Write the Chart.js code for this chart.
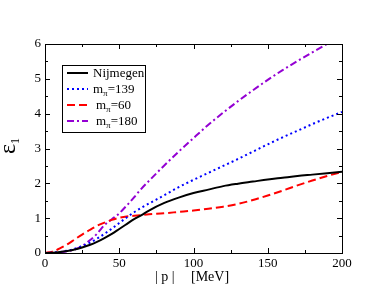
<!DOCTYPE html>
<html><head><meta charset="utf-8">
<script src="https://cdn.jsdelivr.net/npm/chart.js@4/dist/chart.umd.min.js"></script>
<style>html,body{margin:0;padding:0;background:#fff;}canvas{display:block;}</style>
</head><body>
<canvas id="c" width="385" height="298"></canvas>
<script>
const momentum = [0,5,10,15,20,25,30,35,40,45,50,55,60,65,70,80,90,100,110,120,130,140,150,160,170,180,190,200];
const nijmegen = [0,0.01,0.03,0.06,0.10,0.16,0.23,0.32,0.43,0.55,0.69,0.83,0.97,1.09,1.22,1.43,1.59,1.72,1.82,1.92,1.99,2.05,2.11,2.16,2.21,2.25,2.29,2.33];
const mpi139 = [0,0.01,0.03,0.07,0.12,0.20,0.29,0.41,0.55,0.70,0.86,1.02,1.17,1.30,1.42,1.65,1.89,2.10,2.30,2.50,2.70,2.91,3.12,3.32,3.51,3.70,3.88,4.05];
const mpi60 = [0,0.04,0.13,0.25,0.39,0.53,0.66,0.78,0.87,0.95,1.01,1.05,1.07,1.09,1.11,1.14,1.18,1.22,1.27,1.33,1.41,1.52,1.65,1.79,1.94,2.08,2.21,2.33];
const mpi180 = [0,0.01,0.02,0.05,0.10,0.20,0.36,0.55,0.80,0.97,1.14,1.36,1.60,1.85,2.07,2.50,2.91,3.30,3.68,4.03,4.36,4.67,4.97,5.25,5.51,5.76,6.00,6.22];
const xTicks = [0,50,100,150,200];
const yTicks = [0,1,2,3,4,5,6];
const legendNames = [["Nijmegen",""],["m","=139"],["m","=60"],["m","=180"]];

const SERIF = "'Liberation Serif', 'Times New Roman', serif";
function pts(ys){ return momentum.map((x,i)=>({x:x,y:ys[i]})); }

const series = [
  {label:"Nijmegen", data:pts(nijmegen), borderColor:"#000000", borderWidth:2, borderDash:[]},
  {label:"m_pi=139", data:pts(mpi139), borderColor:"#0000ff", borderWidth:2, borderDash:[2,3]},
  {label:"m_pi=60", data:pts(mpi60), borderColor:"#ff0000", borderWidth:2, borderDash:[8,4]},
  {label:"m_pi=180", data:pts(mpi180), borderColor:"#9400d3", borderWidth:2, borderDash:[7,3,2,3]}
];

const deco = {
  id:'deco',
  afterDraw(chart){
    const ctx = chart.ctx, a = chart.chartArea, xs = chart.scales.x, ys = chart.scales.y;
    ctx.save();
    ctx.strokeStyle = '#000'; ctx.lineWidth = 1;
    ctx.strokeRect(Math.round(a.left)+0.5, Math.round(a.top)+0.5, Math.round(a.right-a.left), Math.round(a.bottom-a.top));
    ctx.beginPath();
    for (let v=0; v<=200; v+=25){
      const px = Math.round(xs.getPixelForValue(v))+0.5;
      const L = (v%50===0)?5:3;
      ctx.moveTo(px,a.bottom); ctx.lineTo(px,a.bottom-L);
      ctx.moveTo(px,a.top); ctx.lineTo(px,a.top+L);
    }
    for (let v=0; v<=6; v+=0.5){
      const py = Math.round(ys.getPixelForValue(v))+0.5;
      const L = (v%1===0)?5:3;
      ctx.moveTo(a.left,py); ctx.lineTo(a.left+L,py);
      ctx.moveTo(a.right,py); ctx.lineTo(a.right-L,py);
    }
    ctx.stroke();
    // legend
    const bx=62.5, by=65.5, bw=83, bh=67;
    ctx.fillStyle='#fff'; ctx.fillRect(bx,by,bw,bh);
    ctx.strokeStyle='#000'; ctx.lineWidth=1; ctx.strokeRect(bx,by,bw,bh);
    const rows=[73,89,105,121];
    const textX=[93,93,96,96];
    series.forEach((s,i)=>{
      ctx.beginPath();
      ctx.strokeStyle=s.borderColor; ctx.lineWidth=2; ctx.setLineDash(s.borderDash);
      ctx.moveTo(67,rows[i]); ctx.lineTo(88,rows[i]); ctx.stroke();
      ctx.setLineDash([]);
      ctx.fillStyle='#000'; ctx.textBaseline='alphabetic'; ctx.textAlign='left';
      ctx.font = "13px "+SERIF;
      const nm = legendNames[i];
      let x = textX[i];
      ctx.fillText(nm[0], x, rows[i]+4);
      if (nm[1]) {
        x += ctx.measureText(nm[0]).width;
        ctx.font = "9px "+SERIF;
        ctx.fillText("\u03C0", x, rows[i]+7);
        x += ctx.measureText("\u03C0").width;
        ctx.font = "13px "+SERIF;
        ctx.fillText(nm[1], x, rows[i]+4);
      }
    });
    // x title
    ctx.fillStyle='#000'; ctx.font="14px "+SERIF; ctx.textAlign='left'; ctx.textBaseline='alphabetic';
    ctx.fillText("| p |", 155, 281);
    ctx.fillText("[MeV]", 191, 281);
    // y title
    ctx.save();
    ctx.translate(15, 154); ctx.rotate(-Math.PI/2);
    ctx.font="24px "+SERIF;
    ctx.fillText("\u03B5", 0, 0);
    const w = ctx.measureText("\u03B5").width;
    ctx.font="12px "+SERIF;
    ctx.fillText("1", w, 4);
    ctx.restore();
    ctx.restore();
  }
};

new Chart(document.getElementById('c'), {
  type:'line',
  data:{ datasets: series.map(s=>({label:s.label, data:s.data, borderColor:s.borderColor, borderWidth:s.borderWidth, borderDash:s.borderDash, pointRadius:0, fill:false, cubicInterpolationMode:'monotone'})) },
  options:{
    responsive:false, animation:false, devicePixelRatio:1,
    layout:{padding:{top:44,right:43,left:0,bottom:0}},
    plugins:{legend:{display:false}, tooltip:{enabled:false}},
    scales:{
      x:{type:'linear', min:0, max:200,
        afterBuildTicks(s){ s.ticks = xTicks.map(v=>({value:v})); },
        afterFit(s){ s.height = 45; },
        grid:{display:false, drawTicks:false}, border:{display:false},
        ticks:{color:'#000', font:{family:SERIF, size:13}, padding:3, maxRotation:0}},
      y:{type:'linear', min:0, max:6,
        afterBuildTicks(s){ s.ticks = yTicks.map(v=>({value:v})); },
        afterFit(s){ s.width = 45; },
        grid:{display:false, drawTicks:false}, border:{display:false},
        ticks:{color:'#000', font:{family:SERIF, size:13}, padding:4}}
    }
  },
  plugins:[deco]
});
</script>
</body></html>
